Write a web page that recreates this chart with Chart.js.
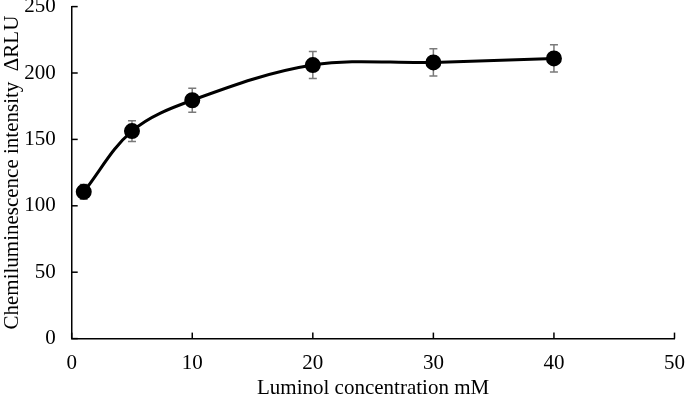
<!DOCTYPE html>
<html>
<head>
<meta charset="utf-8">
<script src="https://cdn.jsdelivr.net/npm/chart.js@4"></script>
<style>
  html, body { margin: 0; padding: 0; background: #fff; overflow: hidden; }
  #wrap { width: 685px; height: 407px; position: relative; margin-top: -6px; }
</style>
</head>
<body>
<div id="wrap"><canvas id="grafico"></canvas></div>
<script>
// datos
const concentraciones = [1, 5, 10, 20, 30, 40];
const intensidades = [110.5, 156.3, 179.5, 206, 208, 211];
const errores = [5.5, 7.8, 9, 10.2, 10.3, 10.3];
const ticksX = [0, 10, 20, 30, 40, 50];
const ticksY = [0, 50, 100, 150, 200, 250];

const FUENTE = "'Liberation Serif', 'Times New Roman', serif";

// barras de error y marcas interiores de los ejes
const pluginErrores = {
    id: 'barrasError',
    beforeDatasetsDraw(chart) {
        const { ctx, scales } = chart;
        ctx.save();
        ctx.strokeStyle = '#7a7a7a';
        ctx.lineWidth = 1.5;
        concentraciones.forEach((c, i) => {
            const x = scales.x.getPixelForValue(c);
            const y1 = scales.y.getPixelForValue(intensidades[i] + errores[i]);
            const y2 = scales.y.getPixelForValue(intensidades[i] - errores[i]);
            ctx.beginPath();
            ctx.moveTo(x, y1); ctx.lineTo(x, y2);
            ctx.moveTo(x - 4, y1); ctx.lineTo(x + 4, y1);
            ctx.moveTo(x - 4, y2); ctx.lineTo(x + 4, y2);
            ctx.stroke();
        });
        ctx.restore();
    },
    afterDraw(chart) {
        const { ctx, scales } = chart;
        ctx.save();
        ctx.strokeStyle = '#000';
        ctx.lineWidth = 1.5;
        const x0 = scales.x.getPixelForValue(0);
        const y0 = scales.y.getPixelForValue(0);
        ticksY.forEach(v => {
            const y = scales.y.getPixelForValue(v);
            ctx.beginPath(); ctx.moveTo(x0, y); ctx.lineTo(x0 + 6, y); ctx.stroke();
        });
        ticksX.forEach(v => {
            const x = scales.x.getPixelForValue(v);
            ctx.beginPath(); ctx.moveTo(x, y0); ctx.lineTo(x, y0 - 6); ctx.stroke();
        });
        ctx.restore();
    }
};

const ctx = document.getElementById('grafico').getContext('2d');
new Chart(ctx, {
    type: 'line',
    data: {
        datasets: [{
            data: concentraciones.map((c, i) => ({ x: c, y: intensidades[i] })),
            borderColor: '#000',
            backgroundColor: '#000',
            borderWidth: 3,
            tension: 0.35,
            pointRadius: 6.5,
            pointBackgroundColor: '#000',
            pointBorderColor: '#000',
            fill: false
        }]
    },
    options: {
        responsive: true,
        maintainAspectRatio: false,
        animation: false,
        layout: { padding: 0 },
        plugins: {
            legend: { display: false },
            tooltip: { enabled: false }
        },
        scales: {
            x: {
                type: 'linear',
                min: 0,
                max: 50,
                afterBuildTicks: axis => { axis.ticks = ticksX.map(v => ({ value: v })); },
                ticks: {
                    font: { size: 21, family: FUENTE },
                    color: '#000',
                    padding: 0,
                    maxRotation: 0
                },
                grid: { display: true, drawOnChartArea: false, drawTicks: true, tickLength: 12, tickColor: 'rgba(0,0,0,0)' },
                border: { display: true, color: '#000', width: 1.5 },
                title: {
                    display: true,
                    text: 'Luminol concentration mM',
                    font: { size: 21, family: FUENTE },
                    color: '#000',
                    padding: { top: 0, bottom: 0 }
                }
            },
            y: {
                min: 0,
                max: 250,
                afterBuildTicks: axis => { axis.ticks = ticksY.map(v => ({ value: v })); },
                ticks: {
                    font: { size: 21, family: FUENTE },
                    color: '#000',
                    padding: 0
                },
                grid: { display: true, drawOnChartArea: false, drawTicks: true, tickLength: 16, tickColor: 'rgba(0,0,0,0)' },
                border: { display: true, color: '#000', width: 1.5 },
                title: {
                    display: true,
                    text: 'Chemiluminescence intensity  \u0394RLU',
                    font: { size: 21, family: FUENTE },
                    color: '#000',
                    padding: { top: 0, bottom: -1 }
                }
            }
        }
    },
    plugins: [pluginErrores]
});
</script>
</body>
</html>
